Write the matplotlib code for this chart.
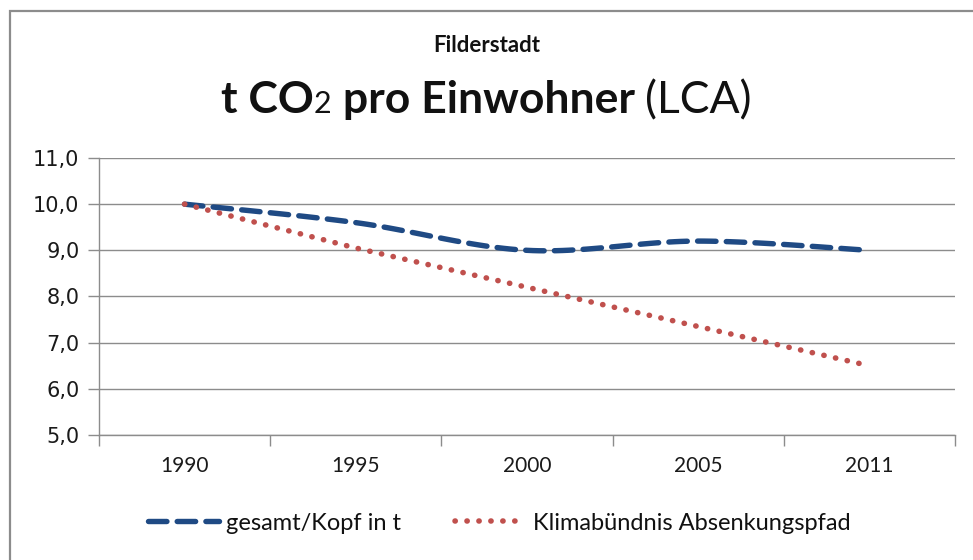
"""
t CO2 pro Einwohner (LCA) - Filderstadt
Line chart with Excel-style smoothed series
"""

import numpy as np
import matplotlib
matplotlib.use("Agg")
import matplotlib.pyplot as plt
from matplotlib.offsetbox import TextArea, HPacker, AnchoredOffsetbox
from matplotlib.ticker import FuncFormatter, FixedLocator
from matplotlib.patches import Rectangle

# ---------------- DATA ----------------
years = ["1990", "1995", "2000", "2005", "2011"]
gesamt = [10.0, 9.6, 9.0, 9.2, 9.0]
klimabuendnis = [10.0, 9.05, 8.2, 7.35, 6.5]

BLUE = "#1F4A84"
RED = "#C0504D"
GRID = "#8C8C8C"


def smooth(x, y, steps=30):
    """Catmull-Rom style bezier smoothing like Excel's smoothed lines"""
    x = np.asarray(x, float)
    y = np.asarray(y, float)
    pts = np.column_stack([x, y])
    out = []
    n = len(pts)
    for i in range(n - 1):
        p0 = pts[max(i - 1, 0)]
        p1 = pts[i]
        p2 = pts[i + 1]
        p3 = pts[min(i + 2, n - 1)]
        c1 = p1 + (p2 - p0) / 6.0
        c2 = p2 - (p3 - p1) / 6.0
        t = np.linspace(0, 1, steps)[:, None]
        seg = ((1 - t) ** 3) * p1 + 3 * ((1 - t) ** 2) * t * c1 \
            + 3 * (1 - t) * t ** 2 * c2 + t ** 3 * p2
        out.append(seg if i == 0 else seg[1:])
    seg = np.vstack(out)
    return seg[:, 0], seg[:, 1]


fig = plt.figure(figsize=(9.73, 5.6), dpi=100)
fig.patches.append(Rectangle((0.0105, -0.05), 1.2, 1.03, transform=fig.transFigure,
                             fill=False, edgecolor="#8C8C8C", linewidth=1.6))

ax = fig.add_axes([0.1017, 0.2232, 0.8798, 0.4947])
x = np.arange(len(years))

sx, sy = smooth(x, gesamt)
ax.plot(sx, sy, color=BLUE, linewidth=3.9, linestyle=(0, (3.4, 1.9)),
        dash_capstyle="round", solid_capstyle="round", label="gesamt/Kopf in t",
        zorder=3)
ax.plot(x, klimabuendnis, color=RED, linewidth=4.0, linestyle=(0, (0.05, 2.1)),
        dash_capstyle="round", label="Klimabündnis Absenkungspfad", zorder=3)

ax.set_xlim(-0.5, len(years) - 0.5)
ax.set_ylim(5, 11)
ax.yaxis.set_major_locator(FixedLocator(np.arange(5, 12, 1)))
ax.yaxis.set_major_formatter(FuncFormatter(lambda v, p: f"{v:.1f}".replace(".", ",")))
ax.grid(axis="y", color=GRID, linewidth=1.0)
ax.set_axisbelow(True)

ax.set_xticks(x)
ax.set_xticklabels(years, fontfamily="Lato", fontsize=15, color="#1a1a1a")
ax.xaxis.set_minor_locator(FixedLocator(np.arange(-0.5, len(years), 1)))
ax.tick_params(axis="x", which="major", length=0, pad=15)
ax.tick_params(axis="x", which="minor", length=8, color=GRID, width=1.0, direction="out")
ax.tick_params(axis="y", length=8, color=GRID, width=1.0, direction="out", pad=6,
               labelsize=15, labelcolor="#1a1a1a")

for side in ["top", "right"]:
    ax.spines[side].set_visible(False)
for side in ["left", "bottom"]:
    ax.spines[side].set_color(GRID)
    ax.spines[side].set_linewidth(1.0)

# titles
fig.text(0.50, 0.918, "Filderstadt", ha="center", va="center",
         fontfamily="Lato", fontweight="bold", fontsize=16, color="#111111")

parts = [
    TextArea("t CO", textprops=dict(fontfamily="Lato", fontweight="bold", fontsize=32, color="#111111")),
    TextArea("2", textprops=dict(fontfamily="Lato", fontsize=22, color="#111111")),
    TextArea(" pro Einwohner ", textprops=dict(fontfamily="Lato", fontweight="bold", fontsize=32, color="#111111")),
    TextArea("(LCA)", textprops=dict(fontfamily="Lato", fontsize=32, color="#111111")),
]
box = HPacker(children=parts, align="baseline", pad=0, sep=0)
anchored = AnchoredOffsetbox(loc="center", child=box, frameon=False,
                             bbox_to_anchor=(0.50, 0.82), bbox_transform=fig.transFigure,
                             borderpad=0, pad=0)
fig.add_artist(anchored)

leg = fig.legend(loc="center", bbox_to_anchor=(0.513, 0.066), ncol=2, frameon=False,
                 prop=dict(family="Lato", size=17), handlelength=3.0, handletextpad=0.3,
                 columnspacing=2.3)
for t in leg.get_texts():
    t.set_color("#111111")

fig.savefig("out.png", dpi=100)
